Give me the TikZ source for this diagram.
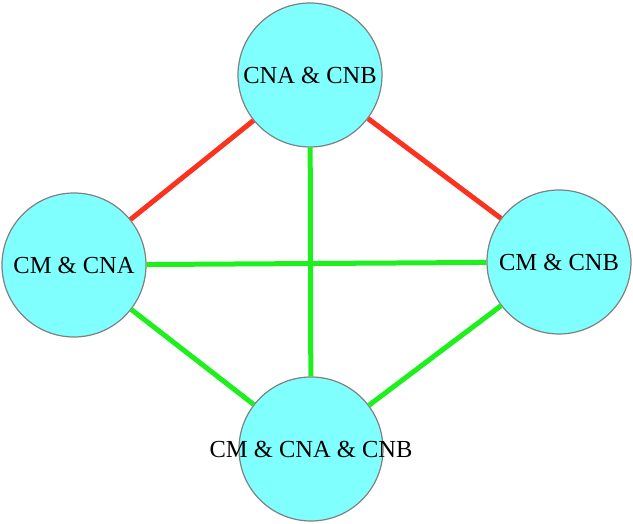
\documentclass[tikz,border=0pt]{standalone}
\usepackage{fontspec}
\setmainfont{Liberation Serif}
\definecolor{nodefill}{RGB}{128,255,255}
\definecolor{nodeedge}{RGB}{128,128,128}
\definecolor{edgered}{RGB}{250,50,30}
\definecolor{edgegreen}{RGB}{30,240,30}
\begin{document}
\begin{tikzpicture}[x=1pt,y=1pt,
  vert/.style={circle, draw=nodeedge, line width=1.2pt, fill=nodefill, minimum size=144pt, inner sep=0pt},
  lbl/.style={font=\fontsize{24.5}{28}\selectfont},
  redge/.style={draw=edgered, line width=5pt},
  gedge/.style={draw=edgegreen, line width=5pt}]
\useasboundingbox (0,0) rectangle (633,524);
\node[vert, label={[lbl]center:CNA \& CNB}] (top) at (310,449) {};
\node[vert, label={[lbl]center:CM \& CNA}] (left) at (74,259) {};
\node[vert, label={[lbl]center:CM \& CNB}] (right) at (559,262) {};
\node[vert, label={[lbl]center:CM \& CNA \& CNB}] (bottom) at (311,75) {};
\draw[redge] (top) -- (left);
\draw[redge] (top) -- (right);
\draw[gedge] (left) -- (right);
\draw[gedge] (top) -- (bottom);
\draw[gedge] (left) -- (bottom);
\draw[gedge] (right) -- (bottom);
\end{tikzpicture}
\end{document}
